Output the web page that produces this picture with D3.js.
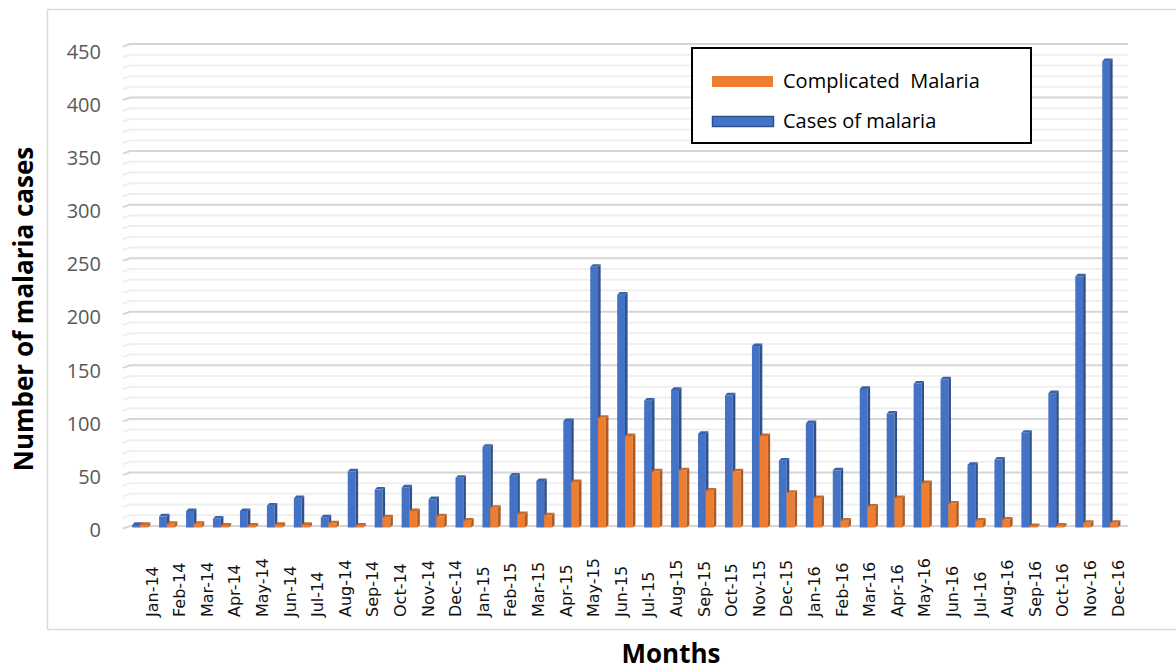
<!DOCTYPE html>
<html>
<head>
<meta charset="utf-8">
<script src="https://cdn.jsdelivr.net/npm/d3@7"></script>
<style>
  body { margin: 0; background: #fff; }
</style>
</head>
<body>
<div id="container"></div>
<script>

// data (first slot has no label in the original)
const categories = ["", "Jan-14","Feb-14","Mar-14","Apr-14","May-14","Jun-14","Jul-14","Aug-14","Sep-14","Oct-14","Nov-14","Dec-14",
  "Jan-15","Feb-15","Mar-15","Apr-15","May-15","Jun-15","Jul-15","Aug-15","Sep-15","Oct-15","Nov-15","Dec-15",
  "Jan-16","Feb-16","Mar-16","Apr-16","May-16","Jun-16","Jul-16","Aug-16","Sep-16","Oct-16","Nov-16","Dec-16"]
const casesOfMalaria = [1, 9, 14, 7, 14, 19, 26, 8, 51, 34, 36, 25, 45,
  74, 47, 42, 98, 242, 216, 117, 127, 86, 122, 168, 61,
  96, 52, 128, 105, 133, 137, 57, 62, 87, 124, 233, 434]
const complicatedMalaria = [1, 2, 2, 0.3, 0.3, 1, 1, 2.5, 0.3, 8, 14, 9, 5,
  17, 11, 10, 41, 101, 84, 51, 52, 33, 51, 84, 31,
  26, 5, 18, 26, 40, 21, 5, 6, 0, 0.3, 3, 3]
const yTicks = [0, 50, 100, 150, 200, 250, 300, 350, 400, 450]
const legendNames = ["Complicated  Malaria", "Cases of malaria"]

const width = 1176, height = 670

const svg = d3.select("#container")
  .append("svg")
    .attr("width", width)
    .attr("height", height)
    .style("font-family", "'Open Sans', sans-serif")

// chart area border
svg.append("rect")
  .attr("x", 47.5).attr("y", 9.5)
  .attr("width", 1140).attr("height", 620)
  .attr("fill", "#fff")
  .attr("stroke", "#d9d9d9")
  .attr("stroke-width", 1.5)

const data = categories.map((c, i) => ({label: c, i: i, cases: casesOfMalaria[i], comp: complicatedMalaria[i]}))

// scales
const x = d3.scaleBand()
  .domain(data.map(d => d.i))
  .range([126.5, 1123.5])
  .padding(0)

const y = d3.scaleLinear()
  .domain([0, 450])
  .range([526, 44])

// tick labels sit a bit lower than the back-wall gridlines
const yLab = d3.scaleLinear()
  .domain([0, 450])
  .range([530, 52])

const xLab = d3.scalePoint()
  .domain(categories.filter(c => c !== ""))
  .range([152, 1118])

// gridlines, minor every 10, major every 50
const grid = svg.append("g")
d3.range(0, 451, 10).forEach(v => {
  const major = v % 50 === 0
  grid.append("path")
    .attr("d", `M123,${y(v) + 2.5} L130,${y(v)} L1128,${y(v)}`)
    .attr("fill", "none")
    .attr("stroke", major ? "#d6d6d6" : "#efefef")
    .attr("stroke-width", 2)
})

// Y axis labels
const yAxis = svg.append("g")
  .attr("transform", "translate(101,0)")
  .call(d3.axisLeft(yLab).tickValues(yTicks).tickSize(0).tickPadding(0))
yAxis.select(".domain").remove()
yAxis.selectAll("text")
  .style("font-family", "'Open Sans', sans-serif")
  .style("font-size", "20px")
  .attr("fill", "#595959")

// 3d-ish column: front face, side face, top face
const dep = 2.6
function column(g, x0, w, v, front, side, top) {
  const yt = y(v), yb = y(0) + 1.5
  g.append("rect")
    .attr("x", x0).attr("y", yt)
    .attr("width", w).attr("height", Math.max(0, yb - yt))
    .attr("fill", front)
  g.append("path")
    .attr("d", `M${x0 + w},${yt} L${x0 + w + dep},${yt - dep} L${x0 + w + dep},${yb - dep} L${x0 + w},${yb} Z`)
    .attr("fill", side)
  g.append("path")
    .attr("d", `M${x0},${yt} L${x0 + dep},${yt - dep} L${x0 + w + dep},${yt - dep} L${x0 + w},${yt} Z`)
    .attr("fill", top)
}

const bars = svg.append("g")
data.forEach(d => {
  const c = x(d.i) + x.bandwidth() / 2
  const g = bars.append("g")
  column(g, c - 7.8, 7.8, d.cases, "#4472c4", "#2f528f", "#3a62ab")
  column(g, c, 7.8, d.comp, "#ed7d31", "#ae5a21", "#c96a29")
})

// X axis labels, rotated
svg.append("g")
  .selectAll("text")
  .data(xLab.domain())
  .join("text")
    .attr("transform", d => `translate(${xLab(d)},617) rotate(-90)`)
    .attr("dy", "0.35em")
    .attr("text-anchor", "start")
    .style("font-family", "'DejaVu Sans', sans-serif")
    .style("font-size", "16px")
    .attr("fill", "#111")
    .text(d => d)

// axis titles
svg.append("text")
  .attr("transform", "translate(33,309) rotate(-90)")
  .attr("text-anchor", "middle")
  .style("font-size", "26px")
  .style("font-weight", "bold")
  .attr("fill", "#000")
  .text("Number of malaria cases")

svg.append("text")
  .attr("x", 671).attr("y", 663)
  .attr("text-anchor", "middle")
  .style("font-size", "26px")
  .style("font-weight", "bold")
  .attr("fill", "#000")
  .text("Months")

// legend
const legend = svg.append("g")
legend.append("rect")
  .attr("x", 692).attr("y", 48)
  .attr("width", 339).attr("height", 95)
  .attr("fill", "#fff")
  .attr("stroke", "#000")
  .attr("stroke-width", 2)

legend.append("rect")
  .attr("x", 712).attr("y", 76)
  .attr("width", 61).attr("height", 11)
  .attr("fill", "#ed7d31")
legend.append("rect")
  .attr("x", 712.5).attr("y", 116.5)
  .attr("width", 61).attr("height", 10)
  .attr("fill", "#4472c4")
  .attr("stroke", "#2f528f")
  .attr("stroke-width", 1.5)

legend.selectAll("text.leg")
  .data(legendNames)
  .join("text")
    .attr("class", "leg")
    .attr("x", 783)
    .attr("y", (d, i) => 88 + i * 40)
    .style("font-size", "20px")
    .style("white-space", "pre")
    .attr("fill", "#000")
    .text(d => d)

</script>
</body>
</html>
